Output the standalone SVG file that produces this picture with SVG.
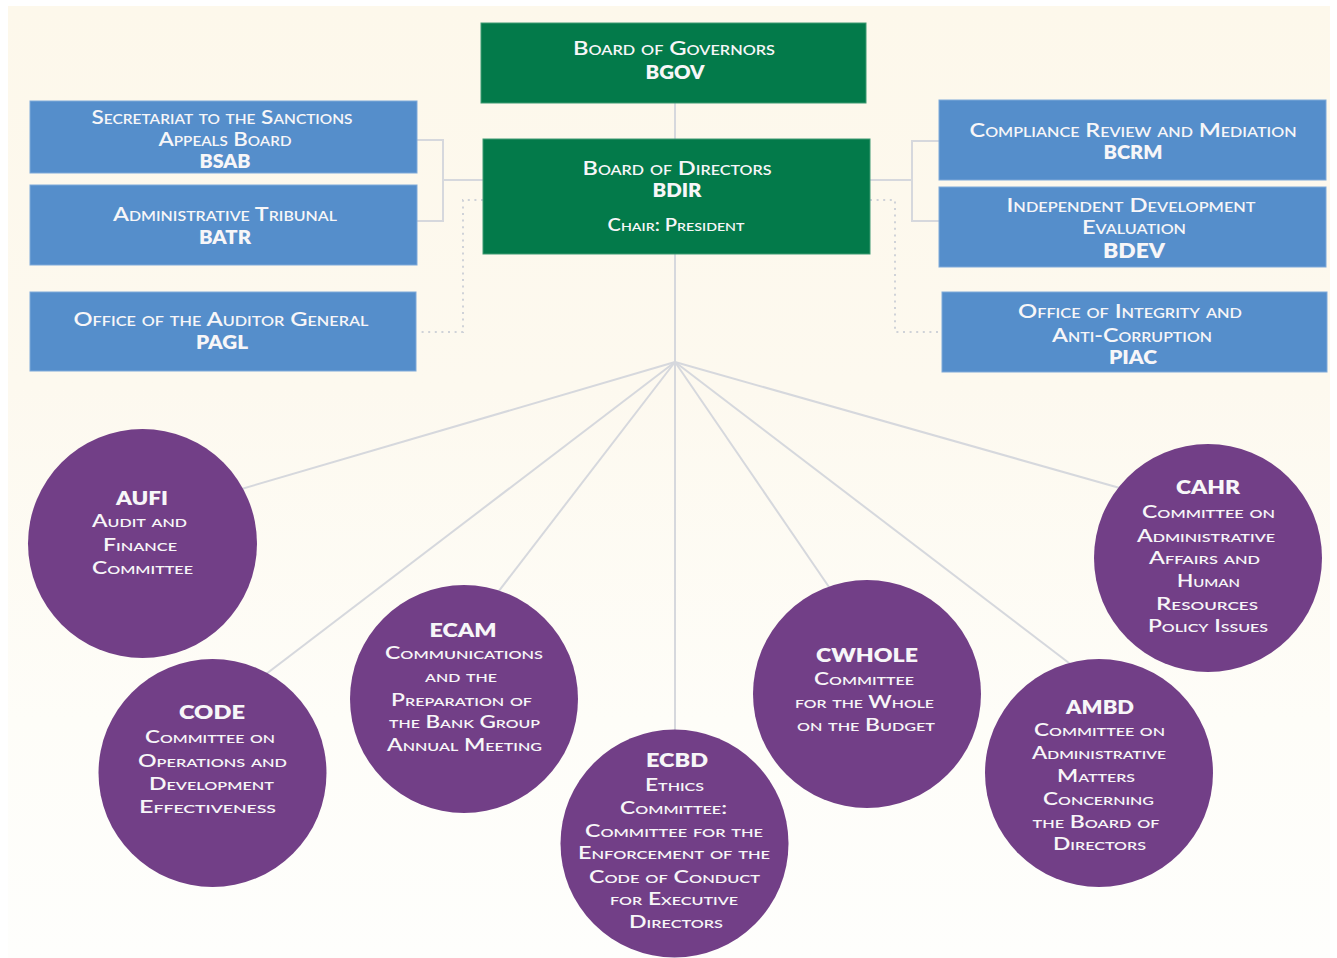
<svg xmlns="http://www.w3.org/2000/svg" width="1337" height="958" viewBox="0 0 1337 958">
<defs>
<linearGradient id="bg" x1="0" y1="0" x2="0" y2="1">
<stop offset="0" stop-color="#fdf8eb"/>
<stop offset="0.4" stop-color="#fdf9ef"/>
<stop offset="0.75" stop-color="#fefdf8"/>
<stop offset="1" stop-color="#fefefc"/>
</linearGradient>
<style>
.green{fill:#037a4a;stroke:#3f9a72;stroke-width:1}
.blue{fill:#558ecb;stroke:#7ea9d9;stroke-width:1}
.circ{fill:#723f87}
.conn{fill:none;stroke:#d6d8dd;stroke-width:2}
.dot{fill:none;stroke:#cfd2d8;stroke-width:2;stroke-dasharray:2 4.6}
text{font-family:Lato,"Liberation Sans",sans-serif;fill:#f7f6f8;text-anchor:middle}
.n{font-size:19px;font-variant:small-caps;font-weight:600}
.s{font-size:17px;font-variant:small-caps;font-weight:600}
.a{font-size:19px;font-weight:800}
</style>
</defs>
<rect x="0" y="0" width="1337" height="958" fill="#ffffff"/>
<rect x="8" y="6" width="1322" height="952" fill="url(#bg)"/>

<g id="connectors">
<line class="conn" x1="675" y1="103" x2="675" y2="139"/>
<line class="conn" x1="675" y1="254" x2="675" y2="362"/>
<polyline class="conn" points="417,140 443,140 443,221 417,221"/>
<line class="conn" x1="443" y1="180" x2="483" y2="180"/>
<polyline class="conn" points="939,141 912,141 912,221 939,221"/>
<line class="conn" x1="870" y1="180" x2="912" y2="180"/>
<polyline class="dot" points="483,200 463,200 463,332 417,332"/>
<polyline class="dot" points="870,200 895,200 895,332 942,332"/>
<line class="conn" x1="675" y1="362" x2="221" y2="495"/>
<line class="conn" x1="675" y1="362" x2="249" y2="687"/>
<line class="conn" x1="675" y1="362" x2="485" y2="609"/>
<line class="conn" x1="675" y1="362" x2="675" y2="750"/>
<line class="conn" x1="675" y1="362" x2="842" y2="606"/>
<line class="conn" x1="675" y1="362" x2="1086" y2="676"/>
<line class="conn" x1="675" y1="362" x2="1141" y2="494"/>
</g>

<g id="BGOV">
<rect class="green" x="481" y="23" width="385" height="80"/>
<text class="n" x="674" y="55" textLength="202" lengthAdjust="spacingAndGlyphs">Board of Governors</text>
<text class="a" x="675" y="79" textLength="59" lengthAdjust="spacingAndGlyphs">BGOV</text>
</g>

<g id="BDIR">
<rect class="green" x="483" y="139" width="387" height="115"/>
<text class="n" x="677" y="175" textLength="189" lengthAdjust="spacingAndGlyphs">Board of Directors</text>
<text class="a" x="677" y="197" textLength="49" lengthAdjust="spacingAndGlyphs">BDIR</text>
<text class="s" x="676" y="231" textLength="137" lengthAdjust="spacingAndGlyphs">Chair: President</text>
</g>

<g id="BSAB">
<rect class="blue" x="30" y="101" width="387" height="72"/>
<text class="n" x="222" y="124" textLength="261" lengthAdjust="spacingAndGlyphs">Secretariat to the Sanctions</text>
<text class="n" x="225" y="146" textLength="133" lengthAdjust="spacingAndGlyphs">Appeals Board</text>
<text class="a" x="225" y="168" textLength="51" lengthAdjust="spacingAndGlyphs">BSAB</text>
</g>

<g id="BATR">
<rect class="blue" x="30" y="185" width="387" height="80"/>
<text class="n" x="225" y="221" textLength="224" lengthAdjust="spacingAndGlyphs">Administrative Tribunal</text>
<text class="a" x="225" y="244" textLength="52" lengthAdjust="spacingAndGlyphs">BATR</text>
</g>

<g id="PAGL">
<rect class="blue" x="30" y="292" width="386" height="79"/>
<text class="n" x="221" y="326" textLength="295" lengthAdjust="spacingAndGlyphs">Office of the Auditor General</text>
<text class="a" x="222" y="349" textLength="52" lengthAdjust="spacingAndGlyphs">PAGL</text>
</g>

<g id="BCRM">
<rect class="blue" x="939" y="100" width="387" height="80"/>
<text class="n" x="1133" y="137" textLength="327" lengthAdjust="spacingAndGlyphs">Compliance Review and Mediation</text>
<text class="a" x="1133" y="159" textLength="59" lengthAdjust="spacingAndGlyphs">BCRM</text>
</g>

<g id="BDEV">
<rect class="blue" x="939" y="187" width="387" height="80"/>
<text class="n" x="1131" y="212" textLength="249" lengthAdjust="spacingAndGlyphs">Independent Development</text>
<text class="n" x="1134" y="234" textLength="104" lengthAdjust="spacingAndGlyphs">Evaluation</text>
<text class="a" x="1134" y="258" style="font-size:21px" textLength="62" lengthAdjust="spacingAndGlyphs">BDEV</text>
</g>

<g id="PIAC">
<rect class="blue" x="942" y="292" width="385" height="80"/>
<text class="n" x="1130" y="318" textLength="224" lengthAdjust="spacingAndGlyphs">Office of Integrity and</text>
<text class="n" x="1132" y="342" textLength="160" lengthAdjust="spacingAndGlyphs">Anti-Corruption</text>
<text class="a" x="1133" y="364" textLength="48" lengthAdjust="spacingAndGlyphs">PIAC</text>
</g>

<g id="AUFI">
<circle class="circ" cx="142.5" cy="543.5" r="114.5"/>
<text class="a" x="142" y="505" textLength="52" lengthAdjust="spacingAndGlyphs">AUFI</text>
<text class="s" x="139.5" y="527" textLength="95" lengthAdjust="spacingAndGlyphs">Audit and</text>
<text class="s" x="140" y="551" textLength="74" lengthAdjust="spacingAndGlyphs">Finance</text>
<text class="s" x="142.5" y="574" textLength="101" lengthAdjust="spacingAndGlyphs">Committee</text>
</g>

<g id="CODE">
<circle class="circ" cx="212.5" cy="773" r="114"/>
<text class="a" x="212" y="719" textLength="66" lengthAdjust="spacingAndGlyphs">CODE</text>
<text class="s" x="210" y="743" textLength="130" lengthAdjust="spacingAndGlyphs">Committee on</text>
<text class="s" x="212.5" y="767" textLength="149" lengthAdjust="spacingAndGlyphs">Operations and</text>
<text class="s" x="211.5" y="790" textLength="125" lengthAdjust="spacingAndGlyphs">Development</text>
<text class="s" x="207.5" y="813" textLength="137" lengthAdjust="spacingAndGlyphs">Effectiveness</text>
</g>

<g id="ECAM">
<circle class="circ" cx="464" cy="699" r="114"/>
<text class="a" x="463" y="637" textLength="67" lengthAdjust="spacingAndGlyphs">ECAM</text>
<text class="s" x="464" y="659" textLength="158" lengthAdjust="spacingAndGlyphs">Communications</text>
<text class="s" x="461" y="682" textLength="72" lengthAdjust="spacingAndGlyphs">and the</text>
<text class="s" x="461.5" y="706" textLength="141" lengthAdjust="spacingAndGlyphs">Preparation of</text>
<text class="s" x="464.5" y="728" textLength="151" lengthAdjust="spacingAndGlyphs">the Bank Group</text>
<text class="s" x="464.5" y="751" textLength="155" lengthAdjust="spacingAndGlyphs">Annual Meeting</text>
</g>

<g id="ECBD">
<circle class="circ" cx="674.5" cy="843.5" r="114"/>
<text class="a" x="677" y="767" textLength="62" lengthAdjust="spacingAndGlyphs">ECBD</text>
<text class="s" x="674.5" y="791" textLength="59" lengthAdjust="spacingAndGlyphs">Ethics</text>
<text class="s" x="673.5" y="814" textLength="107" lengthAdjust="spacingAndGlyphs">Committee:</text>
<text class="s" x="674" y="837" textLength="178" lengthAdjust="spacingAndGlyphs">Committee for the</text>
<text class="s" x="674" y="859" textLength="192" lengthAdjust="spacingAndGlyphs">Enforcement of the</text>
<text class="s" x="674.5" y="883" textLength="171" lengthAdjust="spacingAndGlyphs">Code of Conduct</text>
<text class="s" x="674" y="905" textLength="128" lengthAdjust="spacingAndGlyphs">for Executive</text>
<text class="s" x="676" y="928" textLength="94" lengthAdjust="spacingAndGlyphs">Directors</text>
</g>

<g id="CWHOLE">
<circle class="circ" cx="867" cy="694" r="114"/>
<text class="a" x="867" y="662" textLength="102" lengthAdjust="spacingAndGlyphs">CWHOLE</text>
<text class="s" x="864" y="685" textLength="100" lengthAdjust="spacingAndGlyphs">Committee</text>
<text class="s" x="864.5" y="708" textLength="139" lengthAdjust="spacingAndGlyphs">for the Whole</text>
<text class="s" x="866" y="731" textLength="138" lengthAdjust="spacingAndGlyphs">on the Budget</text>
</g>

<g id="AMBD">
<circle class="circ" cx="1099" cy="773" r="114"/>
<text class="a" x="1100" y="714" textLength="68" lengthAdjust="spacingAndGlyphs">AMBD</text>
<text class="s" x="1099.5" y="736" textLength="131" lengthAdjust="spacingAndGlyphs">Committee on</text>
<text class="s" x="1099" y="759" textLength="134" lengthAdjust="spacingAndGlyphs">Administrative</text>
<text class="s" x="1096" y="782" textLength="78" lengthAdjust="spacingAndGlyphs">Matters</text>
<text class="s" x="1098.5" y="805" textLength="111" lengthAdjust="spacingAndGlyphs">Concerning</text>
<text class="s" x="1096" y="828" textLength="127" lengthAdjust="spacingAndGlyphs">the Board of</text>
<text class="s" x="1099.5" y="850" textLength="93" lengthAdjust="spacingAndGlyphs">Directors</text>
</g>

<g id="CAHR">
<circle class="circ" cx="1208" cy="558" r="114"/>
<text class="a" x="1208" y="494" textLength="64" lengthAdjust="spacingAndGlyphs">CAHR</text>
<text class="s" x="1208.5" y="518" textLength="133" lengthAdjust="spacingAndGlyphs">Committee on</text>
<text class="s" x="1206" y="542" textLength="138" lengthAdjust="spacingAndGlyphs">Administrative</text>
<text class="s" x="1204.5" y="564" textLength="111" lengthAdjust="spacingAndGlyphs">Affairs and</text>
<text class="s" x="1208.5" y="587" textLength="63" lengthAdjust="spacingAndGlyphs">Human</text>
<text class="s" x="1207" y="610" textLength="102" lengthAdjust="spacingAndGlyphs">Resources</text>
<text class="s" x="1208" y="632" textLength="120" lengthAdjust="spacingAndGlyphs">Policy Issues</text>
</g>
</svg>
